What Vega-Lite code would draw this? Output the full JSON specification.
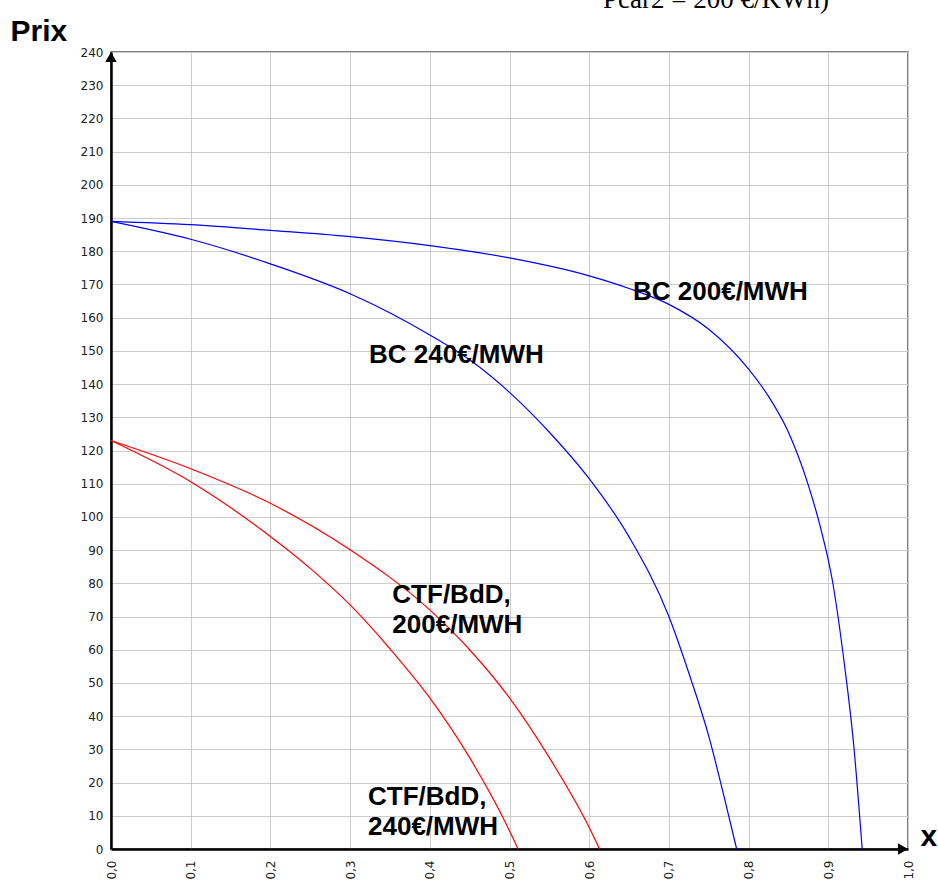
{
  "$schema": "https://vega.github.io/schema/vega-lite/v6.json",
  "width": 797,
  "height": 797,
  "autosize": {"type": "none"},
  "padding": {"left": 111, "top": 52, "right": 30, "bottom": 34},
  "background": "white",
  "title": {
    "text": "Pcar2 = 200 €/KWh)",
    "font": "Liberation Serif",
    "fontSize": 27,
    "fontWeight": "normal",
    "color": "black",
    "anchor": "start",
    "frame": "group",
    "baseline": "alphabetic",
    "dx": 492,
    "dy": 23
  },
  "config": {
    "view": {"stroke": "#555555", "strokeWidth": 1.5},
    "axis": {
      "labelFont": "DejaVu Sans",
      "labelFontSize": 12,
      "labelColor": "#222222",
      "ticks": false,
      "domainColor": "black",
      "domainWidth": 2.5,
      "gridColor": "#cccccc",
      "gridWidth": 1,
      "titleFont": "Liberation Sans",
      "titleFontSize": 30,
      "titleFontWeight": "bold",
      "titleColor": "black"
    }
  },
  "datasets": {
    "curves": [
      {"serie": "BC 200", "x": 0.0, "p": 189.0},
      {"serie": "BC 200", "x": 0.1, "p": 188.0},
      {"serie": "BC 200", "x": 0.2, "p": 186.3},
      {"serie": "BC 200", "x": 0.3, "p": 184.4},
      {"serie": "BC 200", "x": 0.4, "p": 181.7},
      {"serie": "BC 200", "x": 0.5, "p": 178.0},
      {"serie": "BC 200", "x": 0.6, "p": 172.6},
      {"serie": "BC 200", "x": 0.65, "p": 168.8},
      {"serie": "BC 200", "x": 0.7, "p": 164.0},
      {"serie": "BC 200", "x": 0.75, "p": 156.5},
      {"serie": "BC 200", "x": 0.8, "p": 144.5},
      {"serie": "BC 200", "x": 0.825, "p": 136.3},
      {"serie": "BC 200", "x": 0.85, "p": 125.5},
      {"serie": "BC 200", "x": 0.875, "p": 109.5},
      {"serie": "BC 200", "x": 0.89, "p": 97.0},
      {"serie": "BC 200", "x": 0.905, "p": 81.0},
      {"serie": "BC 200", "x": 0.92, "p": 56.0},
      {"serie": "BC 200", "x": 0.932, "p": 31.0},
      {"serie": "BC 200", "x": 0.9425, "p": 0.0},
      {"serie": "BC 240", "x": 0.0, "p": 189.0},
      {"serie": "BC 240", "x": 0.1, "p": 183.6},
      {"serie": "BC 240", "x": 0.2, "p": 176.2},
      {"serie": "BC 240", "x": 0.3, "p": 167.2},
      {"serie": "BC 240", "x": 0.4, "p": 154.8},
      {"serie": "BC 240", "x": 0.45, "p": 147.3},
      {"serie": "BC 240", "x": 0.5, "p": 137.5},
      {"serie": "BC 240", "x": 0.55, "p": 125.5},
      {"serie": "BC 240", "x": 0.6, "p": 111.5},
      {"serie": "BC 240", "x": 0.65, "p": 94.0},
      {"serie": "BC 240", "x": 0.7, "p": 70.0},
      {"serie": "BC 240", "x": 0.725, "p": 53.0},
      {"serie": "BC 240", "x": 0.75, "p": 34.0},
      {"serie": "BC 240", "x": 0.77, "p": 15.0},
      {"serie": "BC 240", "x": 0.785, "p": 0.0},
      {"serie": "CTF 200", "x": 0.0, "p": 123.0},
      {"serie": "CTF 200", "x": 0.1, "p": 114.5},
      {"serie": "CTF 200", "x": 0.2, "p": 104.1},
      {"serie": "CTF 200", "x": 0.3, "p": 90.1},
      {"serie": "CTF 200", "x": 0.4, "p": 72.0},
      {"serie": "CTF 200", "x": 0.45, "p": 60.0},
      {"serie": "CTF 200", "x": 0.5, "p": 45.5},
      {"serie": "CTF 200", "x": 0.55, "p": 27.5},
      {"serie": "CTF 200", "x": 0.6, "p": 6.5},
      {"serie": "CTF 200", "x": 0.613, "p": 0.0},
      {"serie": "CTF 240", "x": 0.0, "p": 123.0},
      {"serie": "CTF 240", "x": 0.1, "p": 110.6},
      {"serie": "CTF 240", "x": 0.2, "p": 94.1},
      {"serie": "CTF 240", "x": 0.25, "p": 84.5},
      {"serie": "CTF 240", "x": 0.3, "p": 73.5},
      {"serie": "CTF 240", "x": 0.35, "p": 60.3},
      {"serie": "CTF 240", "x": 0.4, "p": 45.5},
      {"serie": "CTF 240", "x": 0.45, "p": 27.5},
      {"serie": "CTF 240", "x": 0.5, "p": 5.5},
      {"serie": "CTF 240", "x": 0.5107, "p": 0.0}
    ],
    "labels": [
      {"label": "BC 200€/MWH", "x": 0.655, "p": 165.2},
      {"label": "BC 240€/MWH", "x": 0.3237, "p": 146.3},
      {"label": "CTF/BdD,\n200€/MWH", "x": 0.353, "p": 74.0},
      {"label": "CTF/BdD,\n240€/MWH", "x": 0.3225, "p": 13.25}
    ],
    "arrowY": [{"x": 0, "p": 240}],
    "arrowX": [{"x": 1, "p": 0}]
  },
  "encoding": {
    "x": {
      "field": "x",
      "type": "quantitative",
      "scale": {"domain": [0, 1], "nice": false, "zero": false},
      "axis": {
        "values": [0, 0.1, 0.2, 0.3, 0.4, 0.5, 0.6, 0.7, 0.8, 0.9, 1.0],
        "labelExpr": "replace(format(datum.value, '.1f'), '.', ',')",
        "labelAngle": -90,
        "labelPadding": 11,
        "grid": true,
        "title": "x",
        "titleAngle": 0,
        "titleAlign": "left",
        "titleBaseline": "alphabetic",
        "titleX": 809,
        "titleY": -4
      }
    },
    "y": {
      "field": "p",
      "type": "quantitative",
      "scale": {"domain": [0, 240], "nice": false},
      "axis": {
        "values": [0, 10, 20, 30, 40, 50, 60, 70, 80, 90, 100, 110, 120, 130, 140, 150, 160, 170, 180, 190, 200, 210, 220, 230, 240],
        "labelPadding": 8,
        "grid": true,
        "title": "Prix",
        "titleAngle": 0,
        "titleAlign": "left",
        "titleBaseline": "alphabetic",
        "titleX": -101,
        "titleY": -12
      }
    }
  },
  "layer": [
    {
      "data": {"name": "curves"},
      "mark": {"type": "line", "strokeWidth": 1.2, "interpolate": "monotone"},
      "encoding": {
        "color": {
          "field": "serie",
          "type": "nominal",
          "scale": {"domain": ["BC 200", "BC 240", "CTF 200", "CTF 240"], "range": ["#0000ff", "#0000ff", "#ff0000", "#ff0000"]},
          "legend": null
        }
      }
    },
    {
      "data": {"name": "labels"},
      "mark": {
        "type": "text",
        "font": "Liberation Sans",
        "fontSize": 26,
        "fontWeight": "bold",
        "color": "black",
        "align": "left",
        "baseline": "alphabetic",
        "lineBreak": "\n",
        "lineHeight": 30
      },
      "encoding": {"text": {"field": "label", "type": "nominal"}}
    },
    {
      "data": {"name": "arrowY"},
      "mark": {"type": "point", "shape": "triangle-up", "filled": true, "color": "black", "opacity": 1, "size": 130, "yOffset": 5}
    },
    {
      "data": {"name": "arrowX"},
      "mark": {"type": "point", "shape": "triangle-right", "filled": true, "color": "black", "opacity": 1, "size": 130, "xOffset": -5}
    }
  ]
}
